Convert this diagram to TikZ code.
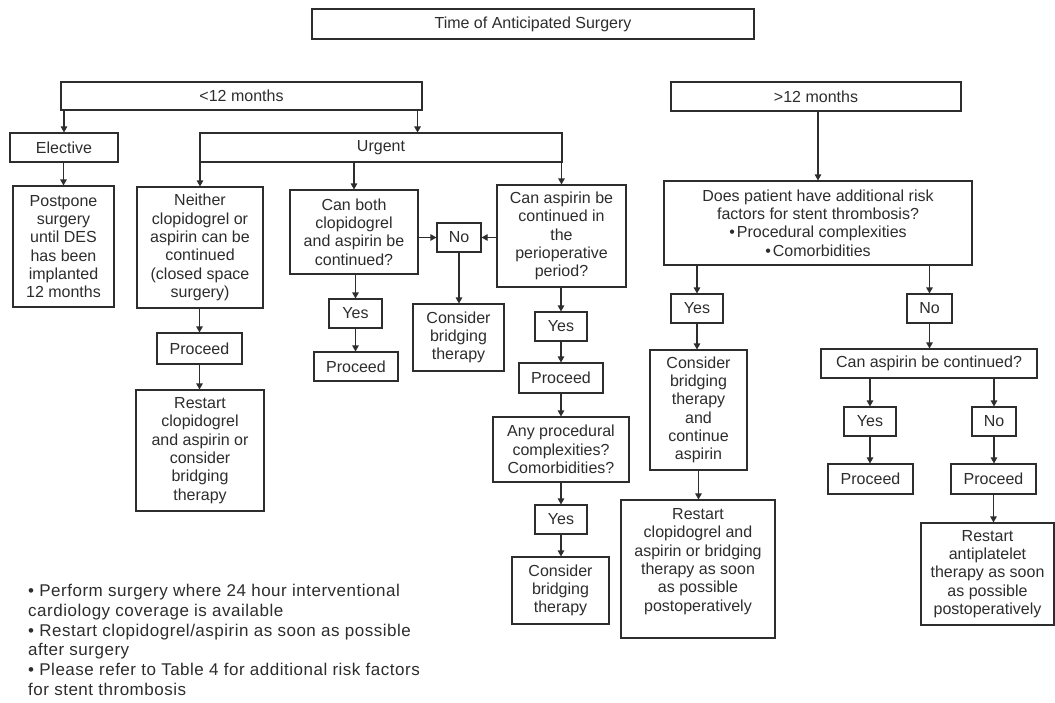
\documentclass[tikz,border=0pt]{standalone}
\usepackage{fontspec}
\setmainfont{Liberation Sans}
\newfontfamily\notefont[LetterSpace=3]{Liberation Sans}
\usetikzlibrary{arrows.meta}
\definecolor{lc}{RGB}{45,45,45}
\definecolor{tc}{RGB}{45,45,45}
\newcommand\mybox[6]{\node[box, minimum width={(#4-#2)*1pt}, minimum height={(#5-#3)*1pt}] (#1) at ({(#2+#4)/2},{(#3+#5)/2}) {#6};}
\begin{document}
\begin{tikzpicture}[x=1pt, y=-1pt,
  box/.style={draw=lc, line width=1.1pt, text=tc, align=center, inner sep=0pt, font=\fontsize{16}{18.3}\selectfont},
  arr/.style={draw=lc, line width=1.1pt, -{Triangle[length=6pt,width=6.5pt]}},
  notes/.style={text=tc, align=left, inner sep=0pt, font=\notefont\fontsize{17}{19.8}\selectfont}]
\fill[white] (0,0) rectangle (1055,702);
\useasboundingbox (0,0) rectangle (1055,702);

\mybox{top}{312}{9}{754}{39}{Time of Anticipated Surgery}
\mybox{lt}{61}{82}{422}{110}{<12 months}
\mybox{gt}{671}{82}{961}{111}{>12 months}
\mybox{el}{10}{133}{118}{162}{Elective}
\mybox{ur}{200}{133}{562}{162}{Urgent}
\mybox{pp}{13}{186}{114}{307}{Postpone\\surgery\\until DES\\has been\\implanted\\12 months}
\mybox{ne}{137}{187}{263}{308}{Neither\\clopidogrel or\\aspirin can be\\continued\\(closed space\\surgery)}
\mybox{pr1}{157}{333}{242}{364}{Proceed}
\mybox{rs1}{136}{390}{264}{511}{Restart\\clopidogrel\\and aspirin or\\consider\\bridging\\therapy}
\mybox{cb}{290}{190}{418}{274}{Can both\\clopidogrel\\and aspirin be\\continued?}
\mybox{ys1}{329}{299}{382}{328}{Yes}
\mybox{pr2}{314}{352}{398}{381}{Proceed}
\mybox{no1}{437}{223}{481}{252}{No}
\mybox{cbt1}{413}{304}{504}{371}{Consider\\bridging\\therapy}
\mybox{ca}{497}{185}{626}{287}{Can aspirin be\\continued in\\the\\perioperative\\period?}
\mybox{ys2}{535}{312}{587}{341}{Yes}
\mybox{pr3}{519}{363}{603}{393}{Proceed}
\mybox{ap}{493}{417}{629}{482}{Any procedural\\complexities?\\Comorbidities?}
\mybox{ys3}{535}{505}{587}{534}{Yes}
\mybox{cbt2}{512}{557}{609}{624}{Consider\\bridging\\therapy}
\mybox{dp}{664}{181}{972}{265}{Does patient have additional risk\\factors for stent thrombosis?\\•\hspace{2pt}Procedural complexities\\•\hspace{2pt}Comorbidities}
\mybox{ys4}{671}{294}{723}{323}{Yes}
\mybox{cbt3}{650}{350}{747}{470}{Consider\\bridging\\therapy\\and\\continue\\aspirin}
\mybox{rs2}{621}{500}{775}{638}{Restart\\clopidogrel and\\aspirin or bridging\\therapy as soon\\as possible\\postoperatively\\~}
\mybox{no2}{907}{294}{952}{323}{No}
\mybox{cac}{821}{349}{1037}{378}{Can aspirin be continued?}
\mybox{ys5}{844}{407}{896}{436}{Yes}
\mybox{no3}{972}{407}{1016}{436}{No}
\mybox{pr4}{828}{464}{913}{494}{Proceed}
\mybox{pr5}{951}{464}{1036}{494}{Proceed}
\mybox{ra}{921}{523}{1054}{625}{Restart\\antiplatelet\\therapy as soon\\as possible\\postoperatively}

\node[notes, anchor=north west] (nt) at (28,584) {• Perform surgery where 24 hour interventional\\cardiology coverage is available\\• Restart clopidogrel/aspirin as soon as possible\\after surgery\\• Please refer to Table 4 for additional risk factors\\for stent thrombosis};

% connectors
\draw[arr] (el.north |- lt.south) -- (el.north);
\draw[arr] ([xshift=-5pt]lt.south east) -- ([xshift=-5pt]lt.south east |- ur.north);
\draw[arr] (dp.north |- gt.south) -- (dp.north);
\draw[arr] (pp.north |- el.south) -- (pp.north);
\draw[arr] (ne.north |- ur.south) -- (ne.north);
\draw[arr] (cb.north |- ur.south) -- (cb.north);
\draw[arr] (ca.north |- ur.south) -- (ca.north);
\draw[arr] (pr1.north |- ne.south) -- (pr1.north);
\draw[arr] (pr1.south) -- (pr1.south |- rs1.north);
\draw[arr] (ys1.north |- cb.south) -- (ys1.north);
\draw[arr] (ys1.south) -- (ys1.south |- pr2.north);
\draw[arr] (no1.west -| cb.east) -- (no1.west);
\draw[arr] (no1.east -| ca.west) -- (no1.east);
\draw[arr] (no1.south) -- (no1.south |- cbt1.north);
\draw[arr] (ys2.north |- ca.south) -- (ys2.north);
\draw[arr] (ys2.south) -- (ys2.south |- pr3.north);
\draw[arr] (pr3.south) -- (pr3.south |- ap.north);
\draw[arr] (ys3.north |- ap.south) -- (ys3.north);
\draw[arr] (ys3.south) -- (ys3.south |- cbt2.north);
\draw[arr] (ys4.north |- dp.south) -- (ys4.north);
\draw[arr] (ys4.south) -- (ys4.south |- cbt3.north);
\draw[arr] (cbt3.south) -- (cbt3.south |- rs2.north);
\draw[arr] (no2.north |- dp.south) -- (no2.north);
\draw[arr] (no2.south) -- (no2.south |- cac.north);
\draw[arr] (ys5.north |- cac.south) -- (ys5.north);
\draw[arr] (no3.north |- cac.south) -- (no3.north);
\draw[arr] (ys5.south) -- (ys5.south |- pr4.north);
\draw[arr] (no3.south) -- (no3.south |- pr5.north);
\draw[arr] (pr5.south) -- (pr5.south |- ra.north);
\end{tikzpicture}
\end{document}
